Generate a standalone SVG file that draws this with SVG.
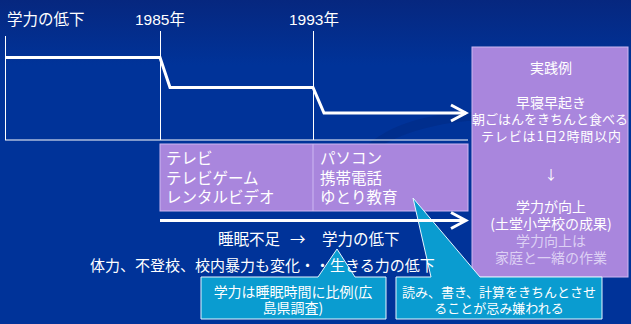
<svg xmlns="http://www.w3.org/2000/svg" width="631" height="324" viewBox="0 0 631 324">
<defs>
<linearGradient id="bg" x1="0" y1="0" x2="0" y2="1">
<stop offset="0" stop-color="#06277f"/>
<stop offset="0.2" stop-color="#003399"/>
<stop offset="1" stop-color="#003399"/>
</linearGradient>
<marker id="chev" viewBox="0 0 20 20" refX="17" refY="10" markerWidth="20" markerHeight="20" markerUnits="userSpaceOnUse" orient="auto">
<path d="M2,2 L17,10 L2,18" fill="none" stroke="#ffffff" stroke-width="3"/>
</marker>
<style>
text{font-family:"Noto Sans CJK JP","Noto Sans",sans-serif;fill:#ffffff}
.yr{font-family:"Liberation Sans","Noto Sans CJK JP",sans-serif;font-size:15.5px}
.t16{font-size:15.5px}
.t15{font-size:15px}
.t13{font-size:13px}
.t14{font-size:14px}
.box{fill:#a986dd;stroke:#cdb8f2;stroke-width:1}
.call{fill:#0a9cd0;stroke:#e6f6ff;stroke-width:1}
.thin{stroke:#ffffff;stroke-width:1;fill:none}
.thick{stroke:#ffffff;stroke-width:3;fill:none}
.dim{fill:#ddd0f4}
</style>
</defs>
<rect width="631" height="324" fill="url(#bg)"/>
<path d="M360,152 C390,120 440,112 480,112 L480,120 C440,122 400,132 372,152 Z" fill="#002c88" opacity="0.7"/>

<g id="title"><text class="t16" x="7" y="25">学力の低下</text></g>
<g id="y1985"><text class="yr" x="135" y="25">1985年</text></g>
<g id="y1993"><text class="yr" x="289" y="25">1993年</text></g>

<g id="media-box">
<rect class="box" x="160" y="144" width="308" height="67"/>
<line x1="313" y1="144" x2="313" y2="211" stroke="#cdb8f2" stroke-width="1"/>
<text class="t16" x="166"><tspan x="166" y="164">テレビ</tspan><tspan x="166" y="184">テレビゲーム</tspan><tspan x="166" y="203">レンタルビデオ</tspan></text>
<text class="t16" x="320"><tspan x="320" y="164">パソコン</tspan><tspan x="320" y="184">携帯電話</tspan><tspan x="320" y="203">ゆとり教育</tspan></text>
</g>

<g id="practice-box">
<rect class="box" x="472" y="47" width="156" height="230"/>
<g text-anchor="middle">
<text class="t14" x="551" y="73">実践例</text>
<text class="t14" x="551" y="108">早寝早起き</text>
<text class="t13" x="550" y="124">朝ごはんをきちんと食べる</text>
<text class="t13" x="551" y="141" textLength="140">テレビは1日2時間以内</text>
<text class="t13" x="551" y="179">↓</text>
<text class="t14" x="551" y="212">学力が向上</text>
<text class="t14" x="551" y="229">(土堂小学校の成果)</text>
<text class="t14 dim" x="551" y="246">学力向上は</text>
<text class="t14 dim" x="551" y="263">家庭と一緒の作業</text>
</g>
</g>

<g id="callout-sleep">
<path class="call" d="M201,277 H318 L337,249 L355,277 H386 V319 H201 Z"/>
<text class="t14" text-anchor="middle"><tspan x="293" y="297">学力は睡眠時間に比例(広</tspan><tspan x="293" y="313">島県調査)</tspan></text>
</g>

<g id="callout-basics">
<path class="call" d="M396,277 H431 L413,198 L480,277 H602 V319 H396 Z"/>
<text class="t13" text-anchor="middle"><tspan x="499" y="297">読み、書き、計算をきちんとさせ</tspan><tspan x="499" y="313">ることが忌み嫌われる</tspan></text>
</g>

<g id="connectors">
<line class="thin" x1="5.5" y1="36" x2="5.5" y2="140"/>
<line class="thin" x1="160.5" y1="31" x2="160.5" y2="140"/>
<line class="thin" x1="313.5" y1="31" x2="313.5" y2="140"/>
<line class="thin" x1="5" y1="140" x2="468" y2="140"/>
<polyline class="thick" points="5,57.5 160,57.5 170,87.5 313,87.5 324,113 466,113" marker-end="url(#chev)"/>
<line class="thick" x1="160" y1="220.5" x2="466" y2="220.5" marker-end="url(#chev)"/>
</g>

<g id="effects">
<text class="t16" y="245"><tspan x="218">睡眠不足</tspan><tspan x="290">→</tspan><tspan x="322">学力の低下</tspan></text>
<text class="t15" x="90" y="271">体力、不登校、校内暴力も変化・・生きる力の低下</text>
</g>
</svg>
